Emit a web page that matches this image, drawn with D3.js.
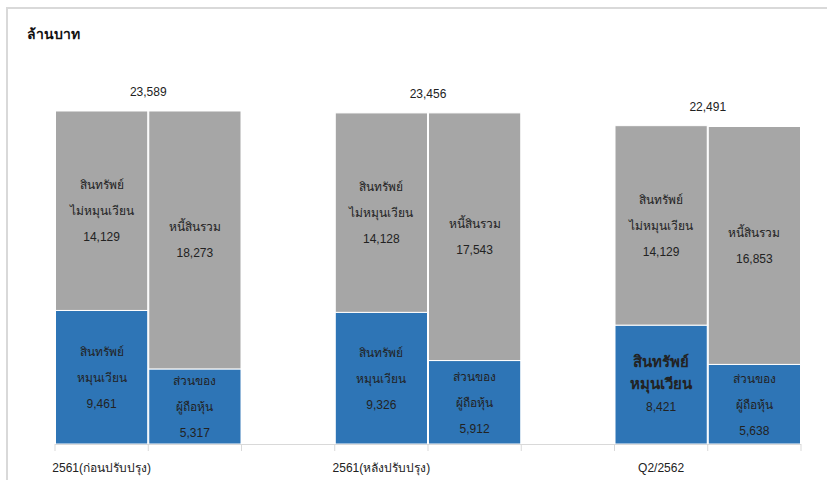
<!DOCTYPE html>
<html><head><meta charset="utf-8">
<script src="https://cdn.jsdelivr.net/npm/d3@7/dist/d3.min.js"></script>
<style>
html,body{margin:0;padding:0;background:#fff;}
svg{display:block;font-family:"Liberation Sans",Arial,"Noto Sans",sans-serif;}
</style></head>
<body><svg id="c" width="827" height="480"></svg>
<script>
const categories = ["2561(ก่อนปรับปรุง)", "2561(หลังปรับปรุง)", "Q2/2562"];
const currentAssets = [9461, 9326, 8421];
const nonCurrentAssets = [14129, 14128, 14129];
const equity = [5317, 5912, 5638];
const liabilities = [18273, 17543, 16853];
const totals = ["23,589", "23,456", "22,491"];
const segLabels = {
  current: ["สินทรัพย์", "หมุนเวียน"],
  nonCurrent: ["สินทรัพย์", "ไม่หมุนเวียน"],
  equity: ["ส่วนของ", "ผู้ถือหุ้น"],
  liabilities: ["หนี้สินรวม"]
};
const unitTitle = "ล้านบาท";

const svg = d3.select("#c");
const W = 827, H = 480;
const blue = "#2E75B6", gray = "#A6A6A6";

// frame
svg.append("path").attr("d", `M${W},8 H7 V${H}`).attr("fill","none").attr("stroke","#d9d9d9").attr("stroke-width",2);

svg.append("text").attr("x",27).attr("y",39).attr("font-size",14).attr("font-weight","bold").attr("fill","#111").text(unitTitle);

// slots: each group has 2 bars + 1 gap
const slots = [];
categories.forEach((c,i)=>{ slots.push(c+"|A", c+"|L"); if(i<categories.length-1) slots.push(c+"|gap"); });
const x = d3.scaleBand().domain(slots).range([55, 801]).paddingInner(0).paddingOuter(0);
const y = d3.scaleLinear().domain([0, 23589]).range([444, 111]);

const fmt = d3.format(",");
const g = svg.append("g");

function seg(xkey, v0, v1, color, lines, value, bold){
  const x0 = x(xkey), bw = x.bandwidth();
  g.append("rect").attr("x", x0+0.5).attr("y", y(v1)).attr("width", bw-1).attr("height", y(v0)-y(v1))
    .attr("fill", color).attr("stroke","#fff").attr("stroke-width",1);
  const cx = x0 + bw/2, cy = (y(v0)+y(v1))/2;
  const all = lines.concat([fmt(value)]);
  const step = bold ? 22 : 26;
  const n = all.length;
  all.forEach((t,k)=>{
    const isBold = bold && k < lines.length;
    g.append("text").attr("x", cx).attr("y", cy + (k-(n-1)/2)*step + 4.5)
      .attr("text-anchor","middle").attr("font-size", isBold?15:12)
      .attr("font-weight", isBold?"bold":"normal").attr("fill","#222").text(t);
  });
}

categories.forEach((c,i)=>{
  const ca = currentAssets[i], nca = nonCurrentAssets[i], eq = equity[i], li = liabilities[i];
  seg(c+"|A", 0, ca, blue, segLabels.current, ca, i===2);
  seg(c+"|A", ca, ca+nca, gray, segLabels.nonCurrent, nca, false);
  seg(c+"|L", 0, eq, blue, segLabels.equity, eq, false);
  seg(c+"|L", eq, eq+li, gray, segLabels.liabilities, li, false);
  const top = Math.max(ca+nca, eq+li);
  svg.append("text").attr("x", x(c+"|L")).attr("y", y(top)-15).attr("text-anchor","middle")
    .attr("font-size",12).attr("fill","#222").text(totals[i]);
  svg.append("text").attr("x", x(c+"|A")+x.bandwidth()/2).attr("y", 472).attr("text-anchor","middle")
    .attr("font-size",12).attr("fill","#222").text(c);
});

// axis baseline and ticks
const ax = svg.append("g");
ax.append("line").attr("x1",55).attr("x2",801).attr("y1",444.5).attr("y2",444.5).attr("stroke","#d9d9d9");
const tickXs = slots.map(s=>x(s)).concat([801]);
ax.selectAll("line.t").data(tickXs).join("line").attr("class","t")
  .attr("x1",d=>d).attr("x2",d=>d).attr("y1",444).attr("y2",451).attr("stroke","#d9d9d9");
</script></body></html>
